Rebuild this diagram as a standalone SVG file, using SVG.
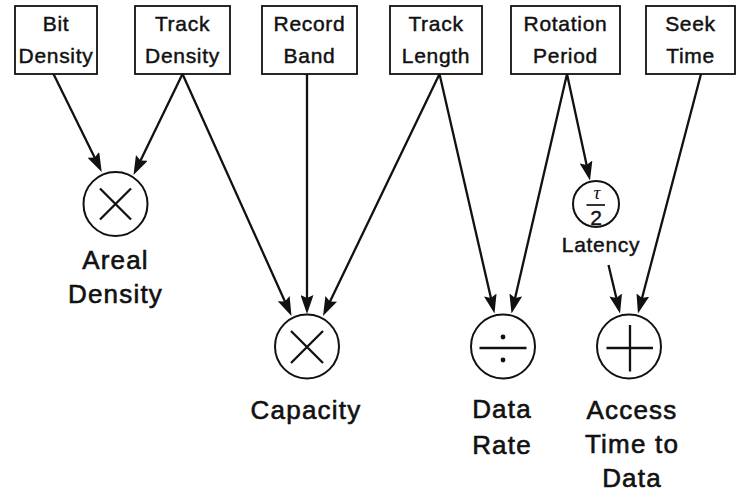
<svg xmlns="http://www.w3.org/2000/svg" width="738" height="493" viewBox="0 0 738 493">
<style>
  .box { fill: #fff; stroke: #111; stroke-width: 1.8; }
  .bt { font-family: "Liberation Sans", Arial, sans-serif; font-size: 21px; letter-spacing: 0.7px; text-anchor: middle; fill: #111; stroke: #111; stroke-width: 0.45; }
  .lbl { font-family: "Liberation Sans", Arial, sans-serif; font-size: 26px; letter-spacing: 1.2px; text-anchor: middle; fill: #111; stroke: #111; stroke-width: 0.6; }
  .op { fill: #fff; stroke: #111; stroke-width: 2; }
  .sym { stroke: #111; stroke-width: 2.3; fill: none; }
  .conn line { stroke: #111; stroke-width: 2.3; marker-end: url(#ah); }
</style>
<defs>
  <marker id="ah" viewBox="0 0 19 13" markerWidth="19" markerHeight="13" markerUnits="userSpaceOnUse" refX="11" refY="6.5" orient="auto">
    <path d="M0,0 L19,6.5 L0,13 L3,6.5 Z" fill="#111"/>
  </marker>
</defs>
<rect width="738" height="493" fill="#fff"/>

<g id="bit-density">
  <rect class="box" x="15" y="6" width="82" height="68"/>
  <text class="bt" x="56" y="31">Bit</text>
  <text class="bt" x="56" y="63">Density</text>
</g>
<g id="track-density">
  <rect class="box" x="135" y="6" width="95" height="68"/>
  <text class="bt" x="182.5" y="31">Track</text>
  <text class="bt" x="182.5" y="63">Density</text>
</g>
<g id="record-band">
  <rect class="box" x="262" y="6" width="95" height="68"/>
  <text class="bt" x="309.5" y="31">Record</text>
  <text class="bt" x="309.5" y="63">Band</text>
</g>
<g id="track-length">
  <rect class="box" x="390" y="6" width="92" height="68"/>
  <text class="bt" x="436" y="31">Track</text>
  <text class="bt" x="436" y="63">Length</text>
</g>
<g id="rotation-period">
  <rect class="box" x="511" y="6" width="109" height="68"/>
  <text class="bt" x="565.5" y="31">Rotation</text>
  <text class="bt" x="565.5" y="63">Period</text>
</g>
<g id="seek-time">
  <rect class="box" x="646" y="6" width="89" height="68"/>
  <text class="bt" x="690.5" y="31">Seek</text>
  <text class="bt" x="690.5" y="63">Time</text>
</g>

<g id="areal-density">
  <circle class="op" cx="115.5" cy="204" r="32"/>
  <path class="sym" d="M100,188.5 L131,219.5 M131,188.5 L100,219.5"/>
  <text class="lbl" x="115.5" y="269">Areal</text>
  <text class="lbl" x="115.5" y="303">Density</text>
</g>
<g id="capacity">
  <circle class="op" cx="307" cy="346.5" r="32"/>
  <path class="sym" d="M291,331 L323,363 M323,331 L291,363"/>
  <text class="lbl" x="306" y="419">Capacity</text>
</g>
<g id="data-rate">
  <circle class="op" cx="503" cy="346.5" r="32"/>
  <path class="sym" d="M479.5,348 L526.5,348"/>
  <circle cx="503" cy="337" r="2.4" fill="#111"/>
  <circle cx="503" cy="360" r="2.4" fill="#111"/>
  <text class="lbl" x="502" y="418">Data</text>
  <text class="lbl" x="502" y="454">Rate</text>
</g>
<g id="access-time">
  <circle class="op" cx="629" cy="346.5" r="32"/>
  <path class="sym" d="M606.5,348 L653,348 M630,325 L630,371.5"/>
  <text class="lbl" x="632" y="419">Access</text>
  <text class="lbl" x="632" y="453">Time to</text>
  <text class="lbl" x="632" y="487">Data</text>
</g>
<g id="latency">
  <circle class="op" cx="596" cy="204" r="23"/>
  <text x="597" y="199" font-family="'Liberation Serif', 'DejaVu Serif', serif" font-style="italic" font-size="19" text-anchor="middle" fill="#111">τ</text>
  <line x1="586.5" y1="205" x2="605" y2="205" stroke="#111" stroke-width="1.7"/>
  <text x="596" y="224.5" font-family="'Liberation Sans', Arial, sans-serif" font-size="21" text-anchor="middle" fill="#111" stroke="#111" stroke-width="0.4">2</text>
  <text class="bt" x="601" y="252">Latency</text>
</g>

<g id="connectors" class="conn">
  <line x1="53.5" y1="74" x2="98.2" y2="164.8"/>
  <line x1="182.5" y1="74" x2="137" y2="167.8"/>
  <line x1="182.5" y1="74" x2="288.2" y2="308.7"/>
  <line x1="307" y1="74" x2="307" y2="306"/>
  <line x1="439.5" y1="74" x2="326.5" y2="308.8"/>
  <line x1="439.5" y1="74" x2="492.7" y2="305.7"/>
  <line x1="567" y1="74" x2="513.3" y2="305.7"/>
  <line x1="567" y1="74" x2="588.3" y2="172.7"/>
  <line x1="608.5" y1="265" x2="618.2" y2="305.7"/>
  <line x1="701" y1="74" x2="640" y2="305.8"/>
</g>
</svg>
